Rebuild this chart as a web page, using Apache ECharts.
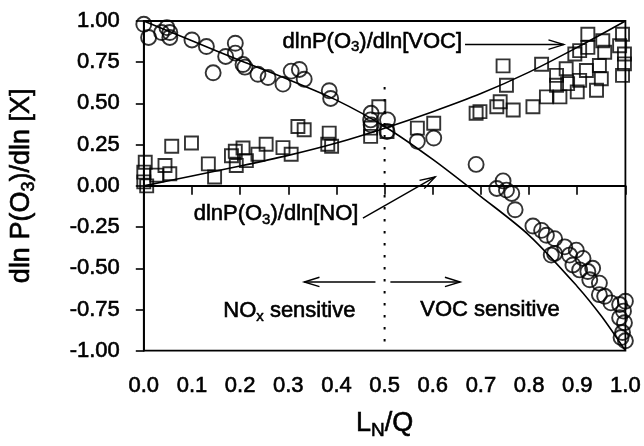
<!DOCTYPE html>
<html style="height: 100%">
<head>
  <meta charset="utf-8">
</head>
<body style="height: 100%; margin: 0; background: #fff">
  <div id="container" style="width: 644px; height: 446px"></div>

  <script type="text/javascript" src="https://cdn.jsdelivr.net/npm/echarts@6/dist/echarts.min.js"></script>
  <script type="text/javascript">
    // dlnP(O3)/dln[NO] model points (circles)
    const noPoints = [
      [0.0, 0.98], [0.01, 0.90], [0.037, 0.93], [0.048, 0.96], [0.054, 0.93], [0.054, 0.90],
      [0.10, 0.885], [0.13, 0.845], [0.144, 0.686], [0.17, 0.785], [0.19, 0.865], [0.19, 0.805],
      [0.206, 0.736], [0.21, 0.72], [0.237, 0.677], [0.258, 0.657], [0.289, 0.617], [0.306, 0.696],
      [0.323, 0.706], [0.333, 0.647], [0.385, 0.577], [0.388, 0.53],
      [0.472, 0.44], [0.471, 0.40], [0.506, 0.40], [0.472, 0.37], [0.505, 0.33],
      [0.568, 0.27], [0.602, 0.29], [0.69, 0.13],
      [0.733, -0.016], [0.746, 0.03], [0.753, -0.026], [0.764, -0.046], [0.771, -0.145],
      [0.808, -0.244], [0.826, -0.27], [0.836, -0.30], [0.853, -0.32], [0.853, -0.41], [0.846, -0.42],
      [0.874, -0.37], [0.884, -0.42], [0.898, -0.39], [0.891, -0.48], [0.905, -0.51], [0.912, -0.44],
      [0.922, -0.52], [0.932, -0.50], [0.926, -0.57], [0.946, -0.59], [0.946, -0.66], [0.957, -0.67],
      [0.97, -0.71], [0.988, -0.72], [1.0, -0.70], [0.988, -0.80], [0.998, -0.83], [0.994, -0.89],
      [1.0, -0.94], [0.991, -0.92], [0.996, -0.76]
    ];

    // dlnP(O3)/dln[VOC] model points (squares)
    const vocPoints = [
      [0.003, 0.143], [0.0, 0.083], [0.0, 0.024], [0.006, 0.0], [0.027, 0.065], [0.044, 0.123],
      [0.054, 0.073], [0.058, 0.24], [0.099, 0.26], [0.134, 0.133], [0.147, 0.054], [0.182, 0.183],
      [0.19, 0.21], [0.206, 0.23], [0.192, 0.123], [0.213, 0.153], [0.237, 0.192], [0.254, 0.252],
      [0.289, 0.232], [0.306, 0.192], [0.32, 0.36], [0.333, 0.34], [0.385, 0.32], [0.382, 0.252],
      [0.39, 0.24], [0.488, 0.48], [0.471, 0.30], [0.505, 0.33], [0.471, 0.35],
      [0.568, 0.35], [0.602, 0.38], [0.69, 0.44], [0.698, 0.45], [0.733, 0.48],
      [0.746, 0.728], [0.826, 0.738], [0.753, 0.61], [0.74, 0.51], [0.767, 0.46], [0.808, 0.48],
      [0.836, 0.54], [0.857, 0.67], [0.857, 0.61], [0.864, 0.54], [0.88, 0.62], [0.877, 0.71],
      [0.895, 0.80], [0.90, 0.57], [0.905, 0.64], [0.905, 0.82], [0.922, 0.92], [0.922, 0.84],
      [0.919, 0.70], [0.94, 0.58], [0.946, 0.73], [0.953, 0.88], [0.957, 0.81], [0.95, 0.65],
      [0.988, 0.85], [0.994, 0.92], [0.998, 0.74], [0.994, 0.67], [0.998, 0.80]
    ];

    // fitted curves
    const noCurve = [
      [0.0, 1.0], [0.1, 0.88], [0.2, 0.76], [0.3, 0.645], [0.4, 0.52], [0.5, 0.36],
      [0.6, 0.16], [0.7, -0.065], [0.8, -0.30], [0.9, -0.61], [0.95, -0.79], [1.0, -1.0]
    ];
    const vocCurve = [
      [0.0, 0.0], [0.1, 0.06], [0.2, 0.12], [0.3, 0.185], [0.4, 0.26], [0.5, 0.35],
      [0.6, 0.45], [0.7, 0.56], [0.8, 0.69], [0.9, 0.84], [1.0, 1.0]
    ];

    const zeroLine = [[0, 0], [1, 0]];
    const splitLine = [[0.5, 0.6], [0.5, -1]];

    const font = 'Liberation Sans, Arial, sans-serif';
    // scanned print looks heavy, thicken the glyphs a little
    const ink = { color: '#000', fontFamily: font, textBorderColor: '#000', textBorderWidth: 0.6 };

    var myChart = echarts.init(document.getElementById('container'));

    var option = {
      animation: false,
      backgroundColor: '#fff',
      grid: {
        left: 142, right: 18, top: 21, bottom: 89,
        show: true, borderColor: '#000', borderWidth: 1.8
      },
      xAxis: {
        type: 'value', min: 0, max: 1, interval: 0.1,
        name: '{a|L}{s|N}{a|/Q}', nameLocation: 'middle', nameGap: 56,
        nameTextStyle: {
          rich: {
            a: Object.assign({ fontSize: 27 }, ink),
            s: Object.assign({ fontSize: 19, padding: [15, 0, 0, 0] }, ink)
          }
        },
        axisLine: { lineStyle: { color: '#000', width: 1.8 } },
        axisTick: { length: 9, lineStyle: { color: '#000', width: 1.6 } },
        axisLabel: Object.assign({
          margin: 24, fontSize: 22,
          formatter: v => v.toFixed(1)
        }, ink),
        splitLine: { show: false }
      },
      yAxis: {
        type: 'value', min: -1, max: 1, interval: 0.25,
        name: '{a|dln P(O}{s|3}{a|)/dln [X]}', nameLocation: 'middle', nameGap: 106, nameRotate: 90,
        nameTextStyle: {
          rich: {
            a: Object.assign({ fontSize: 27 }, ink),
            s: Object.assign({ fontSize: 18, padding: [14, 0, 0, 0] }, ink)
          }
        },
        axisLine: { lineStyle: { color: '#000', width: 1.8 } },
        axisTick: { length: 8, lineStyle: { color: '#000', width: 1.6 } },
        axisLabel: Object.assign({
          margin: 24, fontSize: 22,
          formatter: v => v.toFixed(2)
        }, ink),
        splitLine: { show: false }
      },
      series: [
        {
          type: 'line', data: zeroLine, symbol: 'none', silent: true,
          lineStyle: { color: '#000', width: 1.6 }
        },
        {
          type: 'line', data: splitLine, symbol: 'none', silent: true,
          lineStyle: { color: '#000', width: 2, type: [2.5, 9.5] }
        },
        {
          name: 'NO', type: 'scatter', data: noPoints, symbol: 'circle', symbolSize: 15,
          itemStyle: { color: 'rgba(0,0,0,0)', borderColor: '#000', borderWidth: 1.9 }
        },
        {
          name: 'VOC', type: 'scatter', data: vocPoints, symbol: 'rect', symbolSize: 13,
          itemStyle: { color: 'rgba(0,0,0,0)', borderColor: '#000', borderWidth: 1.9 }
        },
        {
          type: 'line', data: noCurve, symbol: 'none', smooth: 0.3,
          lineStyle: { color: '#000', width: 1.6 }
        },
        {
          type: 'line', data: vocCurve, symbol: 'none', smooth: 0.3,
          lineStyle: { color: '#000', width: 1.6 }
        }
      ]
    };

    myChart.setOption(option);

    // annotations, placed in data coordinates
    const arrows = [
      [[0.667, 0.857], [0.872, 0.857]],
      [[0.455, -0.196], [0.605, 0.054]],
      [[0.481, -0.583], [0.333, -0.583]],
      [[0.512, -0.583], [0.657, -0.583]]
    ];
    const labels = [
      { at: [0.667, 0.875], text: '{a|dlnP(O}{s|3}{a|)/dln[VOC]}', align: 'right' },
      { at: [0.452, -0.17], text: '{a|dlnP(O}{s|3}{a|)/dln[NO]}', align: 'right' },
      { at: [0.165, -0.76], text: '{a|NO}{s|x}{a| sensitive}', align: 'left' },
      { at: [0.574, -0.75], text: '{a|VOC sensitive}', align: 'left' }
    ];
    // graphic text takes zrender style keys
    const rich = {
      a: { fontSize: 22, fontFamily: font, fill: '#000', stroke: '#000', lineWidth: 0.6 },
      s: { fontSize: 15, fontFamily: font, fill: '#000', stroke: '#000', lineWidth: 0.5, padding: [11, 0, 0, 0] }
    };

    const px = p => myChart.convertToPixel({ gridIndex: 0 }, p);
    const graphics = [];
    arrows.forEach(a => {
      const p0 = px(a[0]), p1 = px(a[1]);
      const ang = Math.atan2(p1[1] - p0[1], p1[0] - p0[0]);
      const L = 16, W = 0.3;
      graphics.push({
        type: 'line', shape: { x1: p0[0], y1: p0[1], x2: p1[0], y2: p1[1] },
        style: { stroke: '#000', lineWidth: 1.4 }
      });
      graphics.push({
        type: 'polyline',
        shape: { points: [
          [p1[0] - L * Math.cos(ang - W), p1[1] - L * Math.sin(ang - W)],
          [p1[0], p1[1]],
          [p1[0] - L * Math.cos(ang + W), p1[1] - L * Math.sin(ang + W)]
        ] },
        style: { stroke: '#000', lineWidth: 1.4, fill: null }
      });
    });
    labels.forEach(l => {
      const p = px(l.at);
      graphics.push({
        type: 'text', x: l.align === 'right' ? p[0] - 3 : p[0], y: p[1],
        style: { text: l.text, rich: rich, align: l.align, verticalAlign: 'middle' }
      });
    });
    myChart.setOption({ graphic: graphics });

    window.addEventListener('resize', myChart.resize);
  </script>
</body>
</html>
